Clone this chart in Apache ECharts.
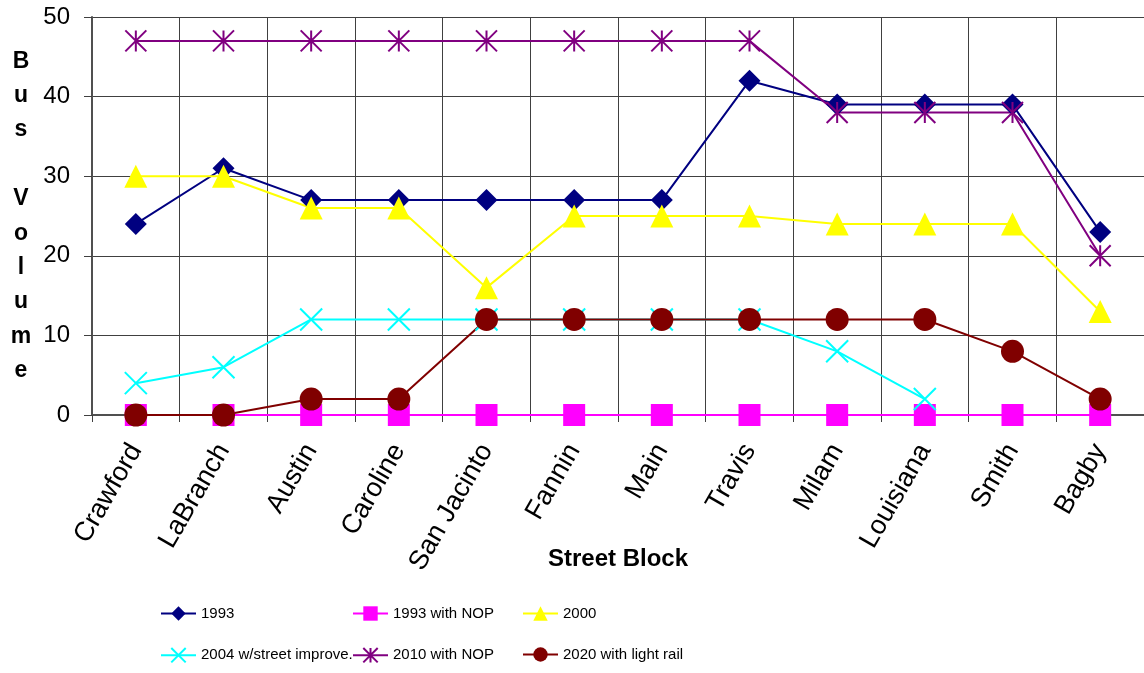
<!doctype html>
<html>
	<head>
		<meta charset="utf-8">
		<title>Bus Volume by Street Block</title>
		<style>
			html, body { margin: 0; padding: 0; background: #fff; }
			#chart { width: 1144px; height: 673px; }
		</style>
	</head>
	<body>
		<script src="https://cdn.jsdelivr.net/npm/echarts@6/dist/echarts.min.js"></script>
		<div id="chart"></div>
		<script>
			const blocks = ["Crawford", "LaBranch", "Austin", "Caroline", "San Jacinto", "Fannin", "Main", "Travis", "Milam", "Louisiana", "Smith", "Bagby"];

			const v1993 = [24, 31, 27, 27, 27, 27, 27, 42, 39, 39, 39, 23];
			const v1993Nop = [0, 0, 0, 0, 0, 0, 0, 0, 0, 0, 0, 0];
			const v2000 = [30, 30, 26, 26, 16, 25, 25, 25, 24, 24, 24, 13];
			const v2004 = [4, 6, 12, 12, 12, 12, 12, 12, 8, 2, null, null];
			const v2010Nop = [47, 47, 47, 47, 47, 47, 47, 47, 38, 38, 38, 20];
			const v2020 = [0, 0, 2, 2, 12, 12, 12, 12, 12, 12, 8, 2];

			const seriesNames = ["1993", "1993 with NOP", "2000", "2004 w/street improve.", "2010 with NOP", "2020 with light rail"];

			const yTicks = { min: 0, max: 50, step: 10 };

			const FONT = "Liberation Sans, Arial, sans-serif";

			const xMark = "path://M0,0L20,20M20,0L0,20";
			const starMark = "path://M0,0L20,20M20,0L0,20M10,0L10,20";

			function line(name, data, color, symbol, size, stroked) {
				return {
					name: name,
					type: "line",
					data: data,
					symbol: symbol,
					symbolSize: size,
					showAllSymbol: true,
					connectNulls: false,
					animation: false,
					lineStyle: { color: color, width: 2 },
					itemStyle: stroked
						? { color: color, borderColor: color, borderWidth: 2 }
						: { color: color, borderWidth: 0 },
					emphasis: { disabled: true }
				};
			}

			// legend laid out as a 3 x 2 table, one legend per cell
			const legendCols = [155, 347, 517];
			const legendRows = [601, 642];
			let legends = seriesNames.map((name, i) => ({
				data: [name],
				left: legendCols[i % 3],
				top: legendRows[Math.floor(i / 3)],
				itemWidth: 35,
				itemHeight: 18,
				textStyle: { fontFamily: FONT, fontSize: 15, color: "#000" }
			}));

			let myChart = echarts.init(document.getElementById("chart"), null, { width: 1144, height: 673 });

			let opts = {
				animation: false,
				backgroundColor: "#fff",
				grid: { left: 92, top: 17, width: 1058, height: 398 },
				legend: legends,
				xAxis: {
					type: "category",
					data: blocks,
					boundaryGap: true,
					name: "Street Block",
					nameLocation: "middle",
					nameGap: 132,
					nameMoveOverlap: false,
					nameTextStyle: { fontFamily: FONT, fontSize: 24, fontWeight: "bold", color: "#000" },
					axisLine: { show: true, lineStyle: { color: "#505050", width: 2 } },
					axisTick: { show: true, length: 7, interval: 0, lineStyle: { color: "#404040" } },
					axisLabel: { interval: 0, rotate: 60, margin: 31, fontFamily: FONT, fontSize: 27, color: "#000" },
					splitLine: { show: true, interval: 0, lineStyle: { color: "#404040", width: 1 } }
				},
				yAxis: {
					type: "value",
					min: yTicks.min,
					max: yTicks.max,
					interval: yTicks.step,
					name: "B\nu\ns\n\nV\no\nl\nu\nm\ne",
					nameLocation: "middle",
					nameRotate: 0,
					nameGap: 71,
					nameMoveOverlap: false,
					nameTextStyle: { fontFamily: FONT, fontSize: 23, fontWeight: "bold", color: "#000", lineHeight: 34.4, align: "center" },
					axisLine: { show: true, lineStyle: { color: "#505050", width: 2 } },
					axisTick: { show: true, length: 8, lineStyle: { color: "#404040" } },
					axisLabel: { margin: 22, fontFamily: FONT, fontSize: 24, color: "#000" },
					splitLine: { show: true, lineStyle: { color: "#404040", width: 1 } }
				},
				series: [
					line(seriesNames[0], v1993, "#000080", "diamond", 22, false),
					line(seriesNames[1], v1993Nop, "#ff00ff", "rect", 22, false),
					line(seriesNames[2], v2000, "#ffff00", "triangle", 23, false),
					line(seriesNames[3], v2004, "#00ffff", xMark, 22, true),
					line(seriesNames[4], v2010Nop, "#800080", starMark, 21, true),
					line(seriesNames[5], v2020, "#800000", "circle", 23, false)
				]
			};

			myChart.setOption(opts, { notMerge: true });
		</script>
	</body>
</html>
